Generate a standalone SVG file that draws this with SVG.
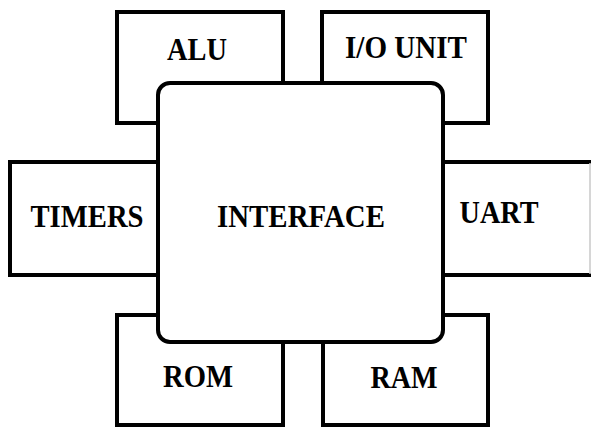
<svg xmlns="http://www.w3.org/2000/svg" width="591" height="428" viewBox="0 0 591 428">
<style>
.box{fill:#fff;stroke:#000;stroke-width:4}
.lbl{font-family:"Liberation Serif","Times New Roman",serif;font-weight:bold;font-size:32px;fill:#000;text-anchor:middle}
</style>
<rect width="591" height="428" fill="#fff"/>
<g id="connectors"></g>
<g id="alu"><rect class="box" x="117" y="12" width="166" height="111"/><text class="lbl" x="197" y="60" textLength="60" lengthAdjust="spacingAndGlyphs">ALU</text></g>
<g id="io"><rect class="box" x="322" y="12" width="166" height="111"/><text class="lbl" x="406" y="58" textLength="122" lengthAdjust="spacingAndGlyphs">I/O UNIT</text></g>
<g id="timers"><rect class="box" x="10" y="162" width="200" height="113"/><text class="lbl" x="87" y="227" textLength="113" lengthAdjust="spacingAndGlyphs">TIMERS</text></g>
<g id="uart"><path d="M400 162H592M400 275H592M400 162V275" fill="#fff" stroke="#000" stroke-width="4"/><line x1="590" y1="163" x2="590" y2="274" stroke="#c8c8c8" stroke-width="1.5"/><text class="lbl" x="499" y="223" textLength="79" lengthAdjust="spacingAndGlyphs">UART</text></g>
<g id="rom"><rect class="box" x="117" y="315" width="166" height="110"/><text class="lbl" x="198" y="387" textLength="70" lengthAdjust="spacingAndGlyphs">ROM</text></g>
<g id="ram"><rect class="box" x="323" y="315" width="165" height="110"/><text class="lbl" x="404" y="388" textLength="67" lengthAdjust="spacingAndGlyphs">RAM</text></g>
<g id="interface"><rect class="box" x="158" y="83" width="285" height="259" rx="12"/><text class="lbl" x="301" y="227" textLength="168" lengthAdjust="spacingAndGlyphs">INTERFACE</text></g>
</svg>
